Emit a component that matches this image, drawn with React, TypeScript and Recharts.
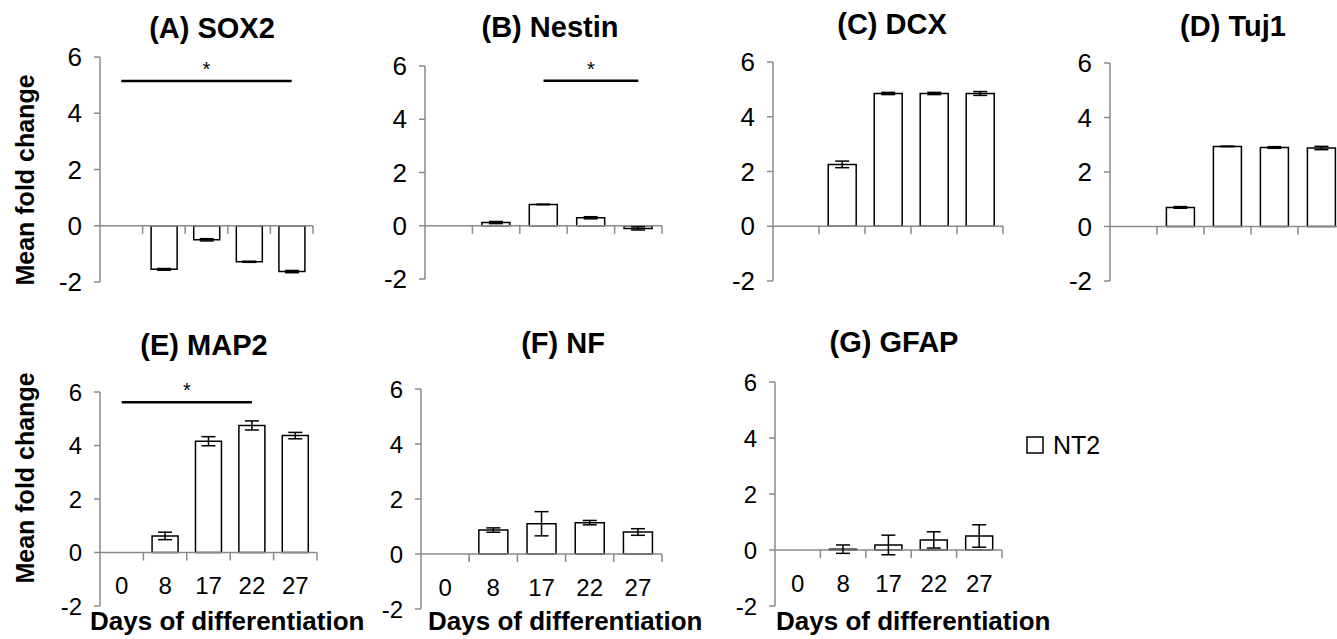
import { BarChart, Bar, XAxis, YAxis, ErrorBar, ReferenceLine } from 'recharts'

const DAYS = ['0', '8', '17', '22', '27']
const Y_TICKS = [-2, 0, 2, 4, 6]
const Y_MIN = -2
const Y_MAX = 6

// mean fold change per day, with the error bar half-lengths
const SOX2 = [0, -1.55, -0.5, -1.28, -1.63]
const SOX2_ERR = [null, 0.03, 0.04, 0.02, 0.04]
const NESTIN = [0, 0.12, 0.8, 0.3, -0.1]
const NESTIN_ERR = [null, 0.04, 0.01, 0.04, 0.06]
const DCX = [0, 2.26, 4.85, 4.85, 4.85]
const DCX_ERR = [null, 0.12, 0.04, 0.04, 0.07]
const TUJ1 = [0, 0.7, 2.94, 2.9, 2.88]
const TUJ1_ERR = [null, 0.03, 0.01, 0.03, 0.06]
const MAP2 = [0, 0.62, 4.16, 4.75, 4.37]
const MAP2_ERR = [null, 0.14, 0.17, 0.17, 0.12]
const NF = [0, 0.87, 1.1, 1.14, 0.8]
const NF_ERR = [null, 0.08, 0.44, 0.08, 0.12]
const GFAP = [0, 0.03, 0.18, 0.36, 0.5]
const GFAP_ERR = [null, 0.15, 0.35, 0.29, 0.4]

const AXIS = '#8a8a8a'
const FONT = '"Liberation Sans", Arial, Helvetica, sans-serif'

type Box = { l: number; r: number; t: number; b: number }
type Sig = { from: string; to: string; y: number }
type PanelDef = {
  title: string
  values: number[]
  errs: (number | null)[]
  box: Box
  row: 'top' | 'bottom'
  titleAt: [number, number]
  sig?: Sig
  daysX?: number
}

const PANELS: PanelDef[] = [
  { title: '(A) SOX2', values: SOX2, errs: SOX2_ERR, box: { l: 100, r: 313, t: 57, b: 282 }, row: 'top', titleAt: [212, 28], sig: { from: '0', to: '27', y: 5.15 } },
  { title: '(B) Nestin', values: NESTIN, errs: NESTIN_ERR, box: { l: 425, r: 662, t: 66, b: 279 }, row: 'top', titleAt: [550, 27], sig: { from: '17', to: '27', y: 5.45 } },
  { title: '(C) DCX', values: DCX, errs: DCX_ERR, box: { l: 773, r: 1003, t: 62, b: 281 }, row: 'top', titleAt: [892, 24] },
  { title: '(D) Tuj1', values: TUJ1, errs: TUJ1_ERR, box: { l: 1110, r: 1345, t: 63, b: 281 }, row: 'top', titleAt: [1233, 26] },
  { title: '(E) MAP2', values: MAP2, errs: MAP2_ERR, box: { l: 100, r: 317, t: 392, b: 606 }, row: 'bottom', titleAt: [204, 345], sig: { from: '0', to: '22', y: 5.62 }, daysX: 90 },
  { title: '(F) NF', values: NF, errs: NF_ERR, box: { l: 421, r: 662, t: 389, b: 609 }, row: 'bottom', titleAt: [563, 343], daysX: 428 },
  { title: '(G) GFAP', values: GFAP, errs: GFAP_ERR, box: { l: 775, r: 1002, t: 382, b: 606 }, row: 'bottom', titleAt: [894, 342], daysX: 776 },
]

const ML = 100
const MR = 12
const MT = 50
const MB = 60
const YW = 60
const XH = 10

function Panel({ p }: { p: PanelDef }) {
  const { l, r, t, b } = p.box
  const plotW = r - l
  const plotH = b - t
  const data = DAYS.map((day, i) => ({ day, value: p.values[i], err: p.errs[i] }))
  const half = plotW / DAYS.length / 2
  const zeroFromBottom = (plotH * (0 - Y_MIN)) / (Y_MAX - Y_MIN)

  // boundary tick under the zero line, plus the day label for the bottom row
  const renderTick = (props: any) => {
    const { x, y, payload } = props
    const zy = y - zeroFromBottom
    return (
      <g>
        <line x1={x + half} x2={x + half} y1={zy} y2={zy + 8} stroke={AXIS} strokeWidth={1.5} />
        {p.row === 'bottom' && (
          <text x={x} y={zy + 33} textAnchor="middle" dominantBaseline="central" fontSize={24} fontFamily={FONT} fill="#000">
            {payload.value}
          </text>
        )}
      </g>
    )
  }

  return (
    <div style={{ position: 'absolute', left: l - ML, top: t - MT }}>
      <BarChart
        width={plotW + ML + MR}
        height={plotH + MT + MB}
        data={data}
        margin={{ top: MT, right: MR, bottom: MB - XH, left: ML - YW }}
        barCategoryGap="20%"
      >
        <XAxis dataKey="day" height={XH} axisLine={false} tickLine={false} tickSize={0} tickMargin={0} tick={renderTick} interval={0} />
        <YAxis
          width={YW}
          domain={[Y_MIN, Y_MAX]}
          ticks={Y_TICKS}
          interval={0}
          allowDataOverflow
          axisLine={{ stroke: AXIS, strokeWidth: 1.5 }}
          tickLine={{ stroke: AXIS, strokeWidth: 1.5 }}
          tickSize={6}
          tickMargin={12}
          tick={{ fill: '#000', fontSize: p.row === 'top' ? 26 : 24, fontFamily: FONT }}
        />
        <ReferenceLine y={0} stroke={AXIS} strokeWidth={1.5} />
        <Bar dataKey="value" fill="#fff" stroke="#000" strokeWidth={1.5} isAnimationActive={false}>
          <ErrorBar dataKey="err" width={7} stroke="#000" strokeWidth={1.5} isAnimationActive={false} />
        </Bar>
        {p.sig && (
          <ReferenceLine
            segment={[{ x: p.sig.from, y: p.sig.y }, { x: p.sig.to, y: p.sig.y }]}
            stroke="#000"
            strokeWidth={2.5}
            label={{ value: '*', position: 'top', fill: '#000', fontSize: 20, fontFamily: FONT }}
          />
        )}
      </BarChart>
    </div>
  )
}

export default function App() {
  return (
    <div style={{ position: 'absolute', left: 0, top: 0, width: 1337, height: 639, overflow: 'hidden', background: '#fff', fontFamily: FONT }}>
      {PANELS.map((p) => (
        <Panel key={p.title} p={p} />
      ))}
      <svg width={1337} height={639} style={{ position: 'absolute', left: 0, top: 0, pointerEvents: 'none' }}>
        {PANELS.map((p) => (
          <text key={p.title} x={p.titleAt[0]} y={p.titleAt[1]} textAnchor="middle" dominantBaseline="central" fontSize={29} fontWeight="bold" fontFamily={FONT} fill="#000">
            {p.title}
          </text>
        ))}
        {PANELS.filter((p) => p.daysX !== undefined).map((p) => (
          <text key={p.title + '-days'} x={p.daysX} y={621} dominantBaseline="central" fontSize={26} fontWeight="bold" fontFamily={FONT} fill="#000">
            Days of differentiation
          </text>
        ))}
        <text x={25} y={180} transform="rotate(-90 25 180)" textAnchor="middle" dominantBaseline="central" fontSize={25} fontWeight="bold" fontFamily={FONT} fill="#000">
          Mean fold change
        </text>
        <text x={25} y={478} transform="rotate(-90 25 478)" textAnchor="middle" dominantBaseline="central" fontSize={25} fontWeight="bold" fontFamily={FONT} fill="#000">
          Mean fold change
        </text>
        <rect x={1027} y={437} width={16} height={16} fill="#fff" stroke="#000" strokeWidth={1.5} />
        <text x={1053} y={445} dominantBaseline="central" fontSize={25} fontFamily={FONT} fill="#000">
          NT2
        </text>
      </svg>
    </div>
  )
}
